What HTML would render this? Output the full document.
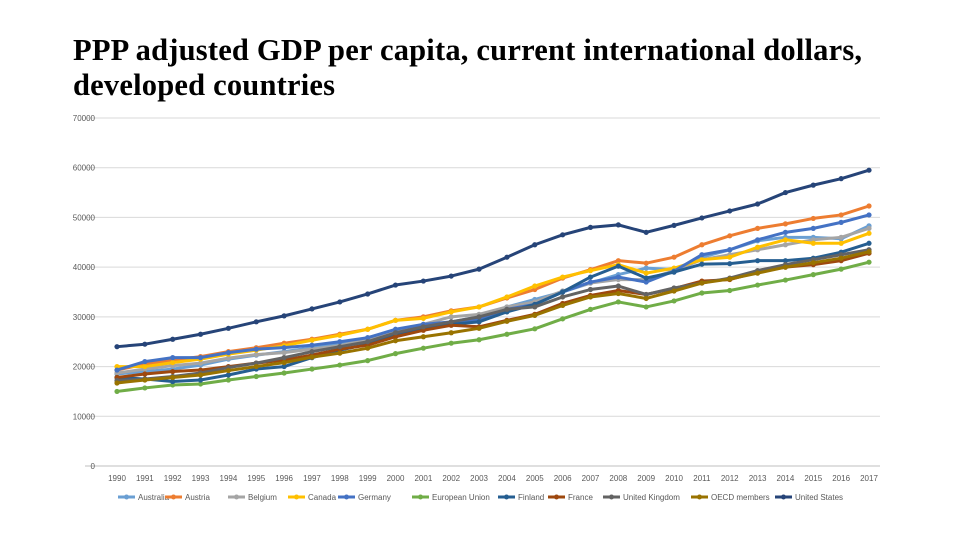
<!DOCTYPE html>
<html><head><meta charset="utf-8"><style>
body{margin:0;background:#fff;width:960px;height:540px;overflow:hidden}
#title{position:absolute;left:73px;top:33px;font-family:"Liberation Serif",serif;font-size:30.5px;line-height:35px;color:#000;margin:0;font-weight:bold;letter-spacing:0.2px}
svg{position:absolute;left:0;top:0}
text{font-family:"Liberation Sans",sans-serif;fill:#595959}
</style></head><body>
<h1 id="title">PPP adjusted GDP per capita, current international dollars,<br>developed countries</h1>
<svg id="chart" width="960" height="540"></svg>
<script>
const years=[1990,1991,1992,1993,1994,1995,1996,1997,1998,1999,2000,2001,2002,2003,2004,2005,2006,2007,2008,2009,2010,2011,2012,2013,2014,2015,2016,2017];
const yTicks=[0,10000,20000,30000,40000,50000,60000,70000];
const seriesNames=["Australia","Austria","Belgium","Canada","Germany","European Union","Finland","France","United Kingdom","OECD members","United States"];
const seriesColors=["#6A9FD3","#ED7D31","#A5A5A5","#FFC000","#4472C4","#70AD47","#255E91","#9E480E","#636363","#997300","#264478"];
const australia=[18.5,19,19.5,20.3,21.5,22.3,23,23.8,24.5,25.8,27,28,29,30,32,33.5,35,36.8,38.5,39.8,39.5,42,43.5,45.3,46,46,45.7,48.3];
const austria=[19.3,20.5,21.3,22,23,23.8,24.7,25.5,26.5,27.5,29.3,30,31.2,32,33.8,35.5,37.8,39.5,41.3,40.8,42,44.5,46.3,47.8,48.7,49.8,50.5,52.3];
const belgium=[18.7,19.5,20.2,20.7,21.7,22.4,22.8,23.5,24.2,25.5,27.2,28.5,30,30.5,32,33,35.2,36.8,37.5,37.5,39.3,41.5,42.5,43.5,44.5,45.5,46,47.8];
const canada=[20,20,20.8,21.5,22.5,23.3,24.2,25.3,26.3,27.5,29.3,29.7,31,32,34,36.2,38,39.3,40.5,38.8,39.8,41.5,42,44,45.5,44.8,44.8,46.8];
const germany=[19.3,21,21.8,21.8,22.8,23.5,23.8,24.3,25,25.8,27.5,28.5,29,29.5,31.5,32.5,35,37,38,37,39.2,42.5,43.5,45.5,47,47.8,49,50.5];
const eu=[15,15.7,16.3,16.5,17.3,18,18.7,19.5,20.3,21.2,22.6,23.7,24.7,25.4,26.5,27.6,29.6,31.5,33,32,33.2,34.8,35.3,36.4,37.4,38.5,39.6,41];
const finland=[17.8,17.5,17,17.3,18.3,19.5,20,21.8,23.3,24.5,26.5,27.5,28.5,29,31,32.5,35,38,40.2,37.8,39,40.6,40.7,41.3,41.3,41.8,43,44.8];
const france=[17.8,18.5,19,19.3,20,20.7,21.3,22.3,23.5,24.3,26,27.3,28.3,28,29.3,30.5,32.7,34.3,35.3,34.5,35.7,37.2,37.5,39,40,40.5,41.3,42.8];
const uk=[17.2,17.5,18,18.7,19.8,20.7,21.8,23,24,25,26.8,28,29,30,31.5,32,34,35.5,36.2,34.5,35.8,36.8,37.8,39.3,40.5,41.5,42.5,43.5];
const oecd=[16.7,17.3,17.8,18.3,19.2,20,20.8,21.9,22.7,23.7,25.2,26,26.8,27.7,29.1,30.3,32.3,34,34.7,33.7,35.2,36.8,37.6,38.8,40,40.9,41.8,43.1];
const us=[24,24.5,25.5,26.5,27.7,29,30.2,31.6,33,34.6,36.4,37.2,38.2,39.6,42,44.5,46.5,48,48.5,47,48.4,49.9,51.3,52.7,55,56.5,57.8,59.5];
const seriesData=[australia,austria,belgium,canada,germany,eu,finland,france,uk,oecd,us];
const legendX=[118,165,228,288,338,412,498,548,603,691,775];

const NS="http://www.w3.org/2000/svg";
const svg=document.getElementById('chart');
const x=i=>117+(869-117)*(i/(years.length-1));
const y=v=>466-(466-118)*(v/70000);
function mk(t,a,p){const e=document.createElementNS(NS,t);for(const k in a)e.setAttribute(k,a[k]);(p||svg).appendChild(e);return e;}
yTicks.forEach(t=>{
  const g=mk('line',{x1:85,x2:880,y1:y(t),y2:y(t),stroke:t===0?'#BFBFBF':'#D9D9D9','stroke-width':1});
  
  
  const l=mk('text',{x:95,y:y(t)+3,'font-size':8,'text-anchor':'end'});l.textContent=t;
  
  
});
years.forEach((yr,i)=>{
  const l=mk('text',{x:x(i),y:481,'font-size':8,'text-anchor':'middle'});l.textContent=yr;
  
  
});
seriesData.forEach((d,s)=>{
  const g=mk('g',{});
  
  
  mk('polyline',{points:d.map((v,i)=>x(i)+','+y(v*1000)).join(' '),fill:'none',stroke:seriesColors[s],'stroke-width':3,'stroke-linejoin':'round'},g);
  d.forEach((v,i)=>{const c=mk('circle',{cx:x(i),cy:y(v*1000),r:2.6,fill:seriesColors[s]},g);
    
    });
});
seriesNames.forEach((n,s)=>{
  const g=mk('g',{});
  
  
  const lx=legendX[s];
  mk('line',{x1:lx,x2:lx+17,y1:497,y2:497,stroke:seriesColors[s],'stroke-width':3},g);
  mk('circle',{cx:lx+8.5,cy:497,r:2.5,fill:seriesColors[s]},g);
  const t=mk('text',{x:lx+20,y:500,'font-size':8},g);t.textContent=n;
});
</script>
</body></html>
